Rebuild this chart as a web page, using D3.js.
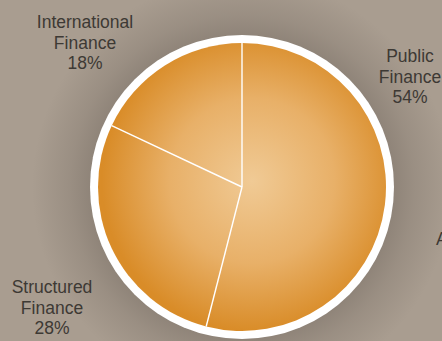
<!DOCTYPE html>
<html>
<head>
<meta charset="utf-8">
<script src="https://cdn.jsdelivr.net/npm/d3@7"></script>
<style>
  html, body { margin: 0; padding: 0; background: #a99d90; overflow: hidden; }
  svg { display: block; }
  text { font-family: "Liberation Sans", Arial, sans-serif; fill: #3d3934; }
</style>
</head>
<body>
<svg id="chart" width="442" height="341"></svg>
<script>
// Portfolio split by business line (percent)
const categories = ["Public Finance", "Structured Finance", "International Finance"];
const shares = [54, 28, 18];
const labelLines = [["Public", "Finance"], ["Structured", "Finance"], ["International", "Finance"]];

// Label placement (centre x, first baseline y)
const labelLayout = [
  { x: 410, y: 62 },
  { x: 52, y: 293 },
  { x: 85, y: 28 }
];

const W = 442, H = 341;
const cx = 242, cy = 187;
const pieR = 144, ringR = 152;

const svg = d3.select("#chart");
const defs = svg.append("defs");

// soft dark halo around the disc
const halo = defs.append("radialGradient")
  .attr("id", "halo").attr("gradientUnits", "userSpaceOnUse")
  .attr("cx", cx).attr("cy", cy).attr("r", 210);
halo.append("stop").attr("offset", 0.70).attr("stop-color", "#6e645b").attr("stop-opacity", 0.48);
halo.append("stop").attr("offset", 0.82).attr("stop-color", "#6e645b").attr("stop-opacity", 0.25);
halo.append("stop").attr("offset", 1).attr("stop-color", "#6e645b").attr("stop-opacity", 0);

// warm glow on the pie (coordinates relative to the pie centre)
const glow = defs.append("radialGradient")
  .attr("id", "glow").attr("gradientUnits", "userSpaceOnUse")
  .attr("cx", 10).attr("cy", -6).attr("r", pieR + 6);
glow.append("stop").attr("offset", 0).attr("stop-color", "#f0ca95");
glow.append("stop").attr("offset", 0.55).attr("stop-color", "#e8b068");
glow.append("stop").attr("offset", 1).attr("stop-color", "#d98c28");

svg.append("rect").attr("width", W).attr("height", H).attr("fill", "#a99d90");
svg.append("circle").attr("cx", cx).attr("cy", cy).attr("r", 210).attr("fill", "url(#halo)");

svg.append("circle").attr("cx", cx).attr("cy", cy).attr("r", ringR).attr("fill", "#ffffff");

const pie = d3.pie().sort(null).value(d => d)(shares);
const arc = d3.arc().innerRadius(0).outerRadius(pieR);

const g = svg.append("g").attr("transform", `translate(${cx},${cy})`);
g.selectAll("path.slice")
  .data(pie)
  .join("path")
  .attr("class", "slice")
  .attr("d", arc)
  .attr("fill", "url(#glow)");

// white dividers between slices
g.selectAll("line.divider")
  .data(pie)
  .join("line")
  .attr("class", "divider")
  .attr("x1", 0).attr("y1", 0)
  .attr("x2", d => pieR * Math.sin(d.startAngle))
  .attr("y2", d => -pieR * Math.cos(d.startAngle))
  .attr("stroke", "#ffffff")
  .attr("stroke-width", 1.4);

// labels
const lineH = 20.7;
labelLines.forEach((lines, i) => {
  const t = svg.append("text")
    .attr("text-anchor", "middle")
    .attr("font-size", 17.5);
  const all = lines.concat([shares[i] + "%"]);
  all.forEach((s, k) => {
    t.append("tspan")
      .attr("x", labelLayout[i].x)
      .attr("y", labelLayout[i].y + k * lineH)
      .text(s);
  });
});

// start of a neighbouring caption running off the right edge
svg.append("text").attr("x", 436).attr("y", 245).attr("font-size", 17.5).text("A");
</script>
</body>
</html>
